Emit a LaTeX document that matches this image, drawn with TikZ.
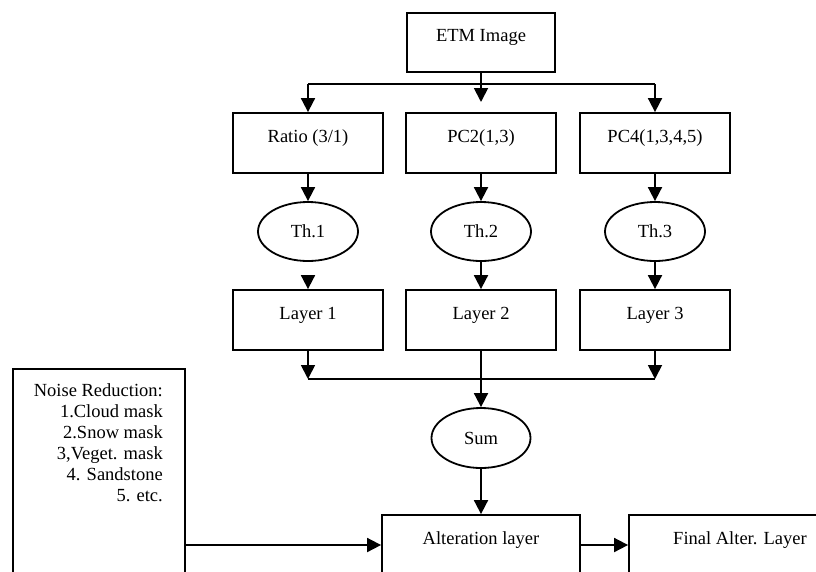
\documentclass[tikz,border=0pt]{standalone}
\usepackage{fontspec}
\setmainfont{Liberation Serif}
\usetikzlibrary{arrows.meta,shapes.geometric}
\begin{document}
\begin{tikzpicture}[x=1pt,y=-1pt,
  every node/.style={font=\fontsize{18.5}{21}\selectfont},
  box/.style={draw,line width=1.8pt,rectangle,inner sep=0pt,minimum width=150pt,minimum height=60pt,text height=13pt,text depth=15pt},
  oval/.style={draw,line width=1.8pt,ellipse,inner sep=0pt,minimum width=100pt,minimum height=59pt},
  conn/.style={line width=1.8pt},
  arr/.style={line width=1.8pt,-{Triangle[length=14pt,width=14pt]}}]
\useasboundingbox (0,0) rectangle (816,571);
\clip (0,0) rectangle (816,571);
% nodes
\node[box,minimum width=148pt,minimum height=59pt] (etm) at (481,42.5) {ETM Image};
\node[box] (ratio) at (308,143) {Ratio (3/1)};
\node[box] (pc2) at (481,143) {PC2(1,3)};
\node[box] (pc4) at (655,143) {PC4(1,3,4,5)};
\node[oval] (th1) at (308,231.5) {Th.1};
\node[oval] (th2) at (481,231.5) {Th.2};
\node[oval] (th3) at (655,231.5) {Th.3};
\node[box] (l1) at (308,320) {Layer 1};
\node[box] (l2) at (481,320) {Layer 2};
\node[box] (l3) at (655,320) {Layer 3};
\node[oval,minimum width=99pt,minimum height=60pt] (sum) at (481,438) {Sum};
\node[box,minimum width=198pt] (alt) at (481,545) {Alteration layer};
\node[box,minimum width=222pt] (fin) at (740,545) {Final Alter. Layer};
\node[draw,line width=1.8pt,rectangle,inner sep=0pt,anchor=north west,minimum width=172pt,minimum height=240pt] (noise) at (12,368) {};
\node[anchor=north east,inner sep=0pt,align=right] (noisetxt) at (163,383) {Noise Reduction:\\1.Cloud mask\\2.Snow mask\\3,Veget. mask\\4. Sandstone\hspace{5pt}\\5. etc.};
% coordinates
\coordinate (busL) at (308,84);
\coordinate (busR) at (655,84);
\coordinate (busM) at (481,84);
\coordinate (midtip) at (481,102);
\coordinate (l1tip) at (308,379);
\coordinate (l3tip) at (655,379);
% connectors top
\draw[conn] (etm.south) -- (busM);
\draw[conn] (busL) -- (busR);
\draw[arr] (busL) -- (ratio.north);
\draw[arr] (busR) -- (pc4.north);
\draw[arr] (busM) -- (midtip);
\draw[arr] (ratio.south) -- (th1.north);
\draw[arr] (pc2.south) -- (th2.north);
\draw[arr] (pc4.south) -- (th3.north);
\draw[arr] ([yshift=14pt]l1.north) -- (l1.north);
\draw[arr] (th2.south) -- (l2.north);
\draw[arr] (th3.south) -- (l3.north);
% layers to sum
\draw[arr] (l1.south) -- (l1tip);
\draw[arr] (l3.south) -- (l3tip);
\draw[conn] (l1tip) -- (l3tip);
\draw[arr] (l2.south) -- (sum.north);
\draw[arr] (sum.south) -- (alt.north);
\draw[arr] (alt.east) -- (fin.west);
\draw[arr] (noise.east |- alt.west) -- (alt.west);
\end{tikzpicture}
\end{document}
